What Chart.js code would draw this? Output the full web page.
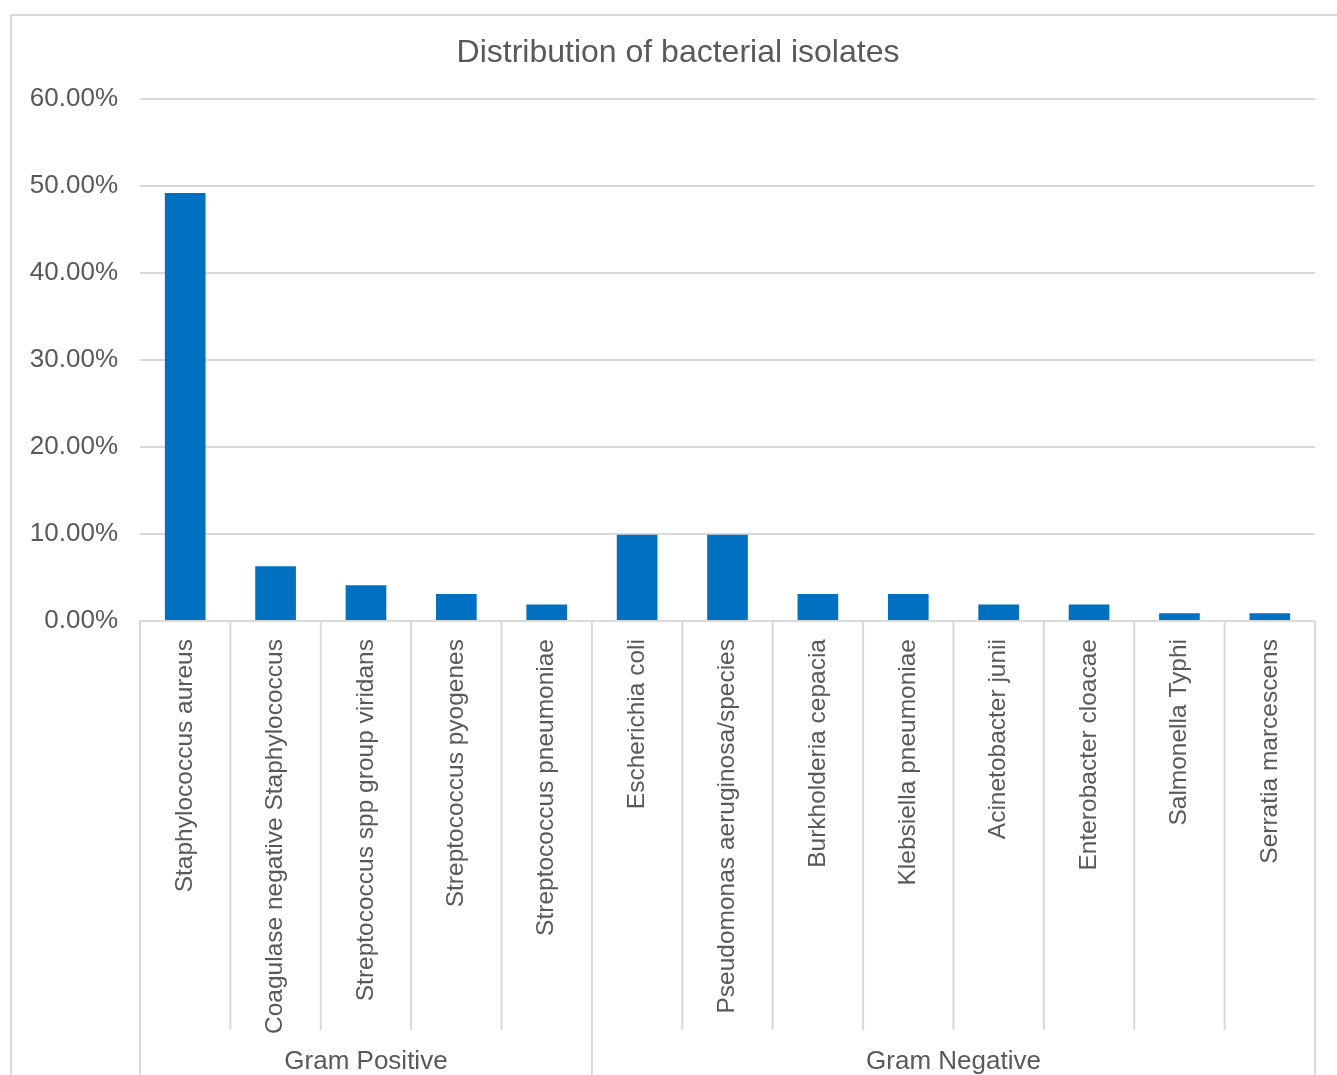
<!DOCTYPE html>
<html>
<head>
<meta charset="utf-8">
<title>Distribution of bacterial isolates</title>
<script src="https://cdn.jsdelivr.net/npm/chart.js@4/dist/chart.umd.min.js"></script>
<style>
    body { margin: 0; background: #fff; overflow: hidden; }
    #box {
        position: absolute;
        left: 10px;
        top: 14px;
        border: 2px solid #d9d9d9;
        background: #fff;
    }
    canvas { display: block; }
</style>
</head>
<body>
<div id="box"><canvas id="bacteria-chart" width="1330" height="1059"></canvas></div>
<script>
// Chart data
const chartTitle = 'Distribution of bacterial isolates';
const isolates = [
    'Staphylococcus aureus',
    'Coagulase negative Staphylococcus',
    'Streptococcus spp group viridans',
    'Streptococcus pyogenes',
    'Streptococcus pneumoniae',
    'Escherichia coli',
    'Pseudomonas aeruginosa/species',
    'Burkholderia cepacia',
    'Klebsiella pneumoniae',
    'Acinetobacter junii',
    'Enterobacter cloacae',
    'Salmonella Typhi',
    'Serratia marcescens'
];
const percentages = [49.2, 6.3, 4.1, 3.1, 1.9, 9.9, 9.9, 3.1, 3.1, 1.9, 1.9, 0.9, 0.9];
const groupNames = ['Gram Positive', 'Gram Negative'];
const groupSizes = [5, 8];
const yTicks = [0, 10, 20, 30, 40, 50, 60];

const textColor = '#595959';
const lineColor = '#d9d9d9';
const fontFamily = '"Liberation Sans", Arial, sans-serif';

// Title centred on the whole frame (the built-in one ignores the right padding)
const titlePlugin = {
    id: 'frameTitle',
    afterDraw(chart) {
        const ctx = chart.ctx;
        ctx.save();
        ctx.fillStyle = textColor;
        ctx.font = '32px ' + fontFamily;
        ctx.textAlign = 'center';
        ctx.textBaseline = 'middle';
        ctx.fillText(chartTitle, chart.width / 2 + 1, 37);
        ctx.restore();
    }
};

// Draws the separators between categories and the group row underneath
const groupAxisPlugin = {
    id: 'groupAxis',
    afterDraw(chart) {
        const ctx = chart.ctx;
        const xScale = chart.scales.x;
        const half = (xScale.getPixelForValue(1) - xScale.getPixelForValue(0)) / 2;
        const top = chart.chartArea.bottom;
        const innerBottom = 1014;
        const bottom = chart.height;

        const boundaries = [0];
        let acc = 0;
        groupSizes.forEach(n => { acc += n; boundaries.push(acc); });

        ctx.save();
        ctx.strokeStyle = lineColor;
        ctx.lineWidth = 2;
        for (let i = 0; i <= isolates.length; i++) {
            const px = i < isolates.length
                ? xScale.getPixelForValue(i) - half
                : xScale.getPixelForValue(i - 1) + half;
            const isGroupEdge = boundaries.includes(i);
            ctx.beginPath();
            ctx.moveTo(px, top);
            ctx.lineTo(px, isGroupEdge ? bottom : innerBottom);
            ctx.stroke();
        }

        ctx.fillStyle = textColor;
        ctx.font = '26px ' + fontFamily;
        ctx.textAlign = 'center';
        ctx.textBaseline = 'middle';
        groupNames.forEach((name, g) => {
            const left = xScale.getPixelForValue(boundaries[g]) - half;
            const right = xScale.getPixelForValue(boundaries[g + 1] - 1) + half;
            ctx.fillText(name, (left + right) / 2, 1046);
        });
        ctx.restore();
    }
};

const ctx = document.getElementById('bacteria-chart').getContext('2d');
new Chart(ctx, {
    type: 'bar',
    data: {
        labels: isolates,
        datasets: [{
            label: 'Isolates (%)',
            data: percentages,
            backgroundColor: '#0070c0',
            borderWidth: 0,
            categoryPercentage: 1,
            barPercentage: 0.45
        }]
    },
    options: {
        responsive: false,
        animation: false,
        layout: {
            padding: { left: 0, right: 27, top: 83, bottom: 0 }
        },
        plugins: {
            legend: { display: false },
            tooltip: { enabled: false },
            title: { display: false }
        },
        scales: {
            x: {
                grid: { display: false },
                border: { display: false },
                ticks: {
                    autoSkip: false,
                    minRotation: 90,
                    maxRotation: 90,
                    padding: 10,
                    color: textColor,
                    font: { family: fontFamily, size: 24.5 }
                },
                afterFit(scale) { scale.height = 454; }
            },
            y: {
                min: 0,
                max: 60,
                grid: { color: lineColor, lineWidth: 2, drawTicks: false },
                border: { display: false },
                afterBuildTicks(scale) {
                    scale.ticks = yTicks.map(v => ({ value: v }));
                },
                ticks: {
                    padding: 22,
                    color: textColor,
                    font: { family: fontFamily, size: 26 },
                    callback: value => value.toFixed(2) + '%'
                },
                afterFit(scale) { scale.width = 128; }
            }
        }
    },
    plugins: [titlePlugin, groupAxisPlugin]
});
</script>
</body>
</html>
